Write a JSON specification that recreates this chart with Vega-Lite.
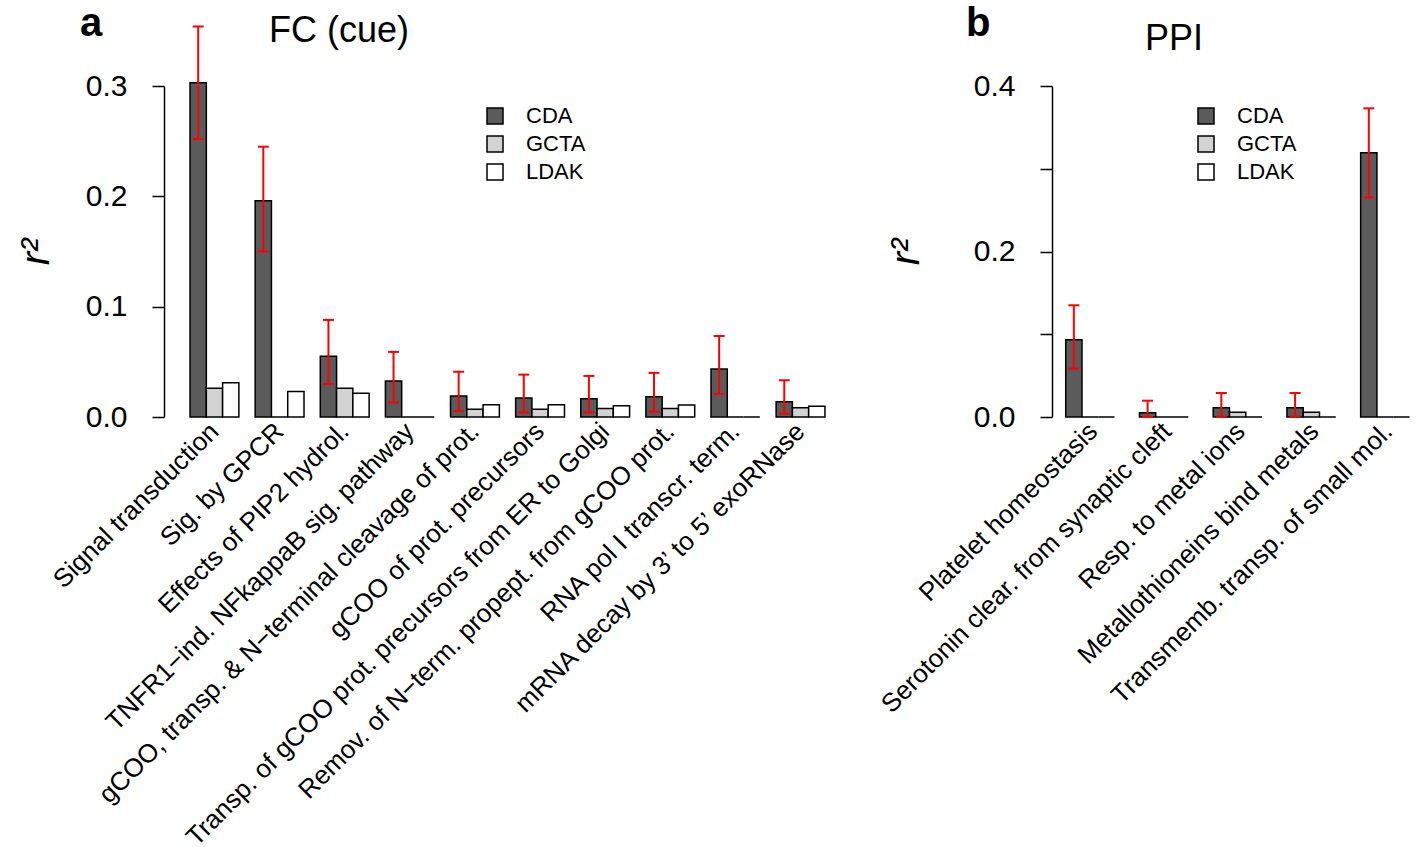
{
  "$schema": "https://vega.github.io/schema/vega-lite/v6.json",
  "padding": {"left": 16, "top": 4, "right": 0, "bottom": 0},
  "background": "white",
  "config": {
    "font": "Liberation Sans",
    "view": {"stroke": null},
    "axis": {"labelColor": "black", "titleColor": "black", "grid": false},
    "title": {"color": "black"}
  },
  "datasets": {
    "fc": [
      {"category": "Signal transduction", "method": "CDA", "value": 0.303, "lo": 0.252, "hi": 0.354},
      {"category": "Signal transduction", "method": "GCTA", "value": 0.026},
      {"category": "Signal transduction", "method": "LDAK", "value": 0.031},
      {"category": "Sig. by GPCR", "method": "CDA", "value": 0.196, "lo": 0.150, "hi": 0.245},
      {"category": "Sig. by GPCR", "method": "GCTA", "value": 0},
      {"category": "Sig. by GPCR", "method": "LDAK", "value": 0.023},
      {"category": "Effects of PIP2 hydrol.", "method": "CDA", "value": 0.055, "lo": 0.030, "hi": 0.088},
      {"category": "Effects of PIP2 hydrol.", "method": "GCTA", "value": 0.026},
      {"category": "Effects of PIP2 hydrol.", "method": "LDAK", "value": 0.0215},
      {"category": "TNFR1−ind. NFkappaB sig. pathway", "method": "CDA", "value": 0.0326, "lo": 0.0133, "hi": 0.059},
      {"category": "TNFR1−ind. NFkappaB sig. pathway", "method": "GCTA", "value": 0},
      {"category": "TNFR1−ind. NFkappaB sig. pathway", "method": "LDAK", "value": 0},
      {"category": "gCOO, transp. & N−terminal cleavage of prot.", "method": "CDA", "value": 0.019, "lo": 0.0054, "hi": 0.041},
      {"category": "gCOO, transp. & N−terminal cleavage of prot.", "method": "GCTA", "value": 0.007},
      {"category": "gCOO, transp. & N−terminal cleavage of prot.", "method": "LDAK", "value": 0.0112},
      {"category": "gCOO of prot. precursors", "method": "CDA", "value": 0.0172, "lo": 0.0042, "hi": 0.0384},
      {"category": "gCOO of prot. precursors", "method": "GCTA", "value": 0.007},
      {"category": "gCOO of prot. precursors", "method": "LDAK", "value": 0.0112},
      {"category": "Transp. of gCOO prot. precursors from ER to Golgi", "method": "CDA", "value": 0.0166, "lo": 0.004, "hi": 0.0372},
      {"category": "Transp. of gCOO prot. precursors from ER to Golgi", "method": "GCTA", "value": 0.0076},
      {"category": "Transp. of gCOO prot. precursors from ER to Golgi", "method": "LDAK", "value": 0.0103},
      {"category": "Remov. of N−term. propept. from gCOO prot.", "method": "CDA", "value": 0.0184, "lo": 0.0048, "hi": 0.040},
      {"category": "Remov. of N−term. propept. from gCOO prot.", "method": "GCTA", "value": 0.0076},
      {"category": "Remov. of N−term. propept. from gCOO prot.", "method": "LDAK", "value": 0.0109},
      {"category": "RNA pol I transcr. term.", "method": "CDA", "value": 0.0435, "lo": 0.0208, "hi": 0.0734},
      {"category": "RNA pol I transcr. term.", "method": "GCTA", "value": 0},
      {"category": "RNA pol I transcr. term.", "method": "LDAK", "value": 0},
      {"category": "mRNA decay by 3’ to 5’ exoRNase", "method": "CDA", "value": 0.0139, "lo": 0.003, "hi": 0.0333},
      {"category": "mRNA decay by 3’ to 5’ exoRNase", "method": "GCTA", "value": 0.0084},
      {"category": "mRNA decay by 3’ to 5’ exoRNase", "method": "LDAK", "value": 0.0097}
    ],
    "ppi": [
      {"category": "Platelet homeostasis", "method": "CDA", "value": 0.0934, "lo": 0.0584, "hi": 0.135},
      {"category": "Platelet homeostasis", "method": "GCTA", "value": 0},
      {"category": "Platelet homeostasis", "method": "LDAK", "value": 0},
      {"category": "Serotonin clear. from synaptic cleft", "method": "CDA", "value": 0.0052, "lo": 0.0, "hi": 0.0197},
      {"category": "Serotonin clear. from synaptic cleft", "method": "GCTA", "value": 0},
      {"category": "Serotonin clear. from synaptic cleft", "method": "LDAK", "value": 0},
      {"category": "Resp. to metal ions", "method": "CDA", "value": 0.0113, "lo": 0.0005, "hi": 0.029},
      {"category": "Resp. to metal ions", "method": "GCTA", "value": 0.0056},
      {"category": "Resp. to metal ions", "method": "LDAK", "value": 0},
      {"category": "Metallothioneins bind metals", "method": "CDA", "value": 0.0113, "lo": 0.0005, "hi": 0.029},
      {"category": "Metallothioneins bind metals", "method": "GCTA", "value": 0.0056},
      {"category": "Metallothioneins bind metals", "method": "LDAK", "value": 0},
      {"category": "Transmemb. transp. of small mol.", "method": "CDA", "value": 0.3194, "lo": 0.2655, "hi": 0.373},
      {"category": "Transmemb. transp. of small mol.", "method": "GCTA", "value": 0},
      {"category": "Transmemb. transp. of small mol.", "method": "LDAK", "value": 0}
    ]
  },
  "resolve": {"scale": {"fill": "independent", "x": "independent", "y": "independent"}, "legend": {"fill": "independent"}},
  "spacing": 25,
  "hconcat": [
    {
      "title": {"text": "a", "anchor": "start", "frame": "group", "fontSize": 40, "fontWeight": "bold", "dx": -84, "dy": 35},
      "vconcat": [
        {
          "width": 687,
          "height": 331,
          "title": {"text": "FC (cue)", "anchor": "start", "frame": "group", "dx": 105, "fontSize": 36, "fontWeight": "normal", "offset": -25},
          "data": {"name": "fc"},
          "encoding": {
            "x": {"field": "category", "type": "nominal", "sort": null, "title": null,
              "scale": {"paddingInner": 0.25, "paddingOuter": 0.4},
              "axis": {"domain": false, "ticks": false, "labelAngle": -45, "labelAlign": "right", "labelBaseline": "middle", "labelFontSize": 26, "labelPadding": 10, "labelLimit": 1000}},
            "xOffset": {"field": "method", "type": "nominal", "scale": {"domain": ["CDA", "GCTA", "LDAK"], "paddingInner": 0, "paddingOuter": 0}}
          },
          "layer": [
            {
              "mark": {"type": "bar", "stroke": "black", "strokeWidth": 1.5},
              "encoding": {
                "y": {"field": "value", "type": "quantitative", "title": "r²",
                  "scale": {"domain": [0, 0.3], "nice": false},
                  "axis": {"values": [0, 0.1, 0.2, 0.3], "format": ".1f", "domainColor": "black", "domainWidth": 1.5, "tickColor": "black", "tickWidth": 1.5, "tickSize": 12, "labelFontSize": 30, "labelPadding": 25, "titleFontSize": 40, "titleFontStyle": "italic", "titleFontWeight": "normal", "titlePadding": 29}},
                "fill": {"field": "method", "type": "nominal",
                  "scale": {"domain": ["CDA", "GCTA", "LDAK"], "range": ["#5b5b5b", "#d2d2d2", "#ffffff"]},
                  "legend": {"orient": "none", "legendX": 320, "legendY": 19, "title": null, "symbolType": "square", "symbolSize": 256, "symbolStrokeColor": "black", "symbolStrokeWidth": 1.5, "symbolOpacity": 1, "labelFontSize": 22, "labelOffset": 20, "rowPadding": 6, "padding": 0}}
              }
            },
            {
              "transform": [{"filter": "datum.hi != null"}],
              "mark": {"type": "rule", "color": "#ff0000", "strokeWidth": 2},
              "encoding": {"y": {"field": "lo", "type": "quantitative", "title": "r²", "scale": {"domain": [0, 0.3], "nice": false}}, "y2": {"field": "hi"}}
            },
            {
              "transform": [{"filter": "datum.hi != null"}],
              "mark": {"type": "tick", "color": "#ff0000", "thickness": 2, "size": 11, "opacity": 1},
              "encoding": {"y": {"field": "lo", "type": "quantitative", "title": "r²", "scale": {"domain": [0, 0.3], "nice": false}}}
            },
            {
              "transform": [{"filter": "datum.hi != null"}],
              "mark": {"type": "tick", "color": "#ff0000", "thickness": 2, "size": 11, "opacity": 1},
              "encoding": {"y": {"field": "hi", "type": "quantitative", "title": "r²", "scale": {"domain": [0, 0.3], "nice": false}}}
            }
          ]
        }
      ]
    },
    {
      "title": {"text": "b", "anchor": "start", "frame": "group", "fontSize": 40, "fontWeight": "bold", "dx": -86, "dy": 27},
      "vconcat": [
        {
          "width": 365,
          "height": 331,
          "title": {"text": "PPI", "anchor": "start", "frame": "group", "dx": 93, "fontSize": 36, "fontWeight": "normal", "offset": 13},
          "data": {"name": "ppi"},
          "encoding": {
            "x": {"field": "category", "type": "nominal", "sort": null, "title": null,
              "scale": {"paddingInner": 0.25, "paddingOuter": 0.1, "align": 0.93},
              "axis": {"domain": false, "ticks": false, "labelAngle": -45, "labelAlign": "right", "labelBaseline": "middle", "labelFontSize": 26, "labelPadding": 10, "labelLimit": 1000}},
            "xOffset": {"field": "method", "type": "nominal", "scale": {"domain": ["CDA", "GCTA", "LDAK"], "paddingInner": 0, "paddingOuter": 0}}
          },
          "layer": [
            {
              "mark": {"type": "bar", "stroke": "black", "strokeWidth": 1.5},
              "encoding": {
                "y": {"field": "value", "type": "quantitative", "title": "r²",
                  "scale": {"domain": [0, 0.4], "nice": false},
                  "axis": {"values": [0, 0.1, 0.2, 0.3, 0.4], "labelExpr": "datum.value == 0.1 || datum.value == 0.3 ? '' : format(datum.value, '.1f')", "domainColor": "black", "domainWidth": 1.5, "tickColor": "black", "tickWidth": 1.5, "tickSize": 12, "labelFontSize": 30, "labelPadding": 25, "titleFontSize": 40, "titleFontStyle": "italic", "titleFontWeight": "normal", "titlePadding": 47}},
                "fill": {"field": "method", "type": "nominal",
                  "scale": {"domain": ["CDA", "GCTA", "LDAK"], "range": ["#5b5b5b", "#d2d2d2", "#ffffff"]},
                  "legend": {"orient": "none", "legendX": 143, "legendY": 19, "title": null, "symbolType": "square", "symbolSize": 256, "symbolStrokeColor": "black", "symbolStrokeWidth": 1.5, "symbolOpacity": 1, "labelFontSize": 22, "labelOffset": 20, "rowPadding": 6, "padding": 0}}
              }
            },
            {
              "transform": [{"filter": "datum.hi != null"}],
              "mark": {"type": "rule", "color": "#ff0000", "strokeWidth": 2},
              "encoding": {"y": {"field": "lo", "type": "quantitative", "title": "r²", "scale": {"domain": [0, 0.4], "nice": false}}, "y2": {"field": "hi"}}
            },
            {
              "transform": [{"filter": "datum.hi != null"}],
              "mark": {"type": "tick", "color": "#ff0000", "thickness": 2, "size": 11, "opacity": 1},
              "encoding": {"y": {"field": "lo", "type": "quantitative", "title": "r²", "scale": {"domain": [0, 0.4], "nice": false}}}
            },
            {
              "transform": [{"filter": "datum.hi != null"}],
              "mark": {"type": "tick", "color": "#ff0000", "thickness": 2, "size": 11, "opacity": 1},
              "encoding": {"y": {"field": "hi", "type": "quantitative", "title": "r²", "scale": {"domain": [0, 0.4], "nice": false}}}
            }
          ]
        }
      ]
    }
  ]
}
